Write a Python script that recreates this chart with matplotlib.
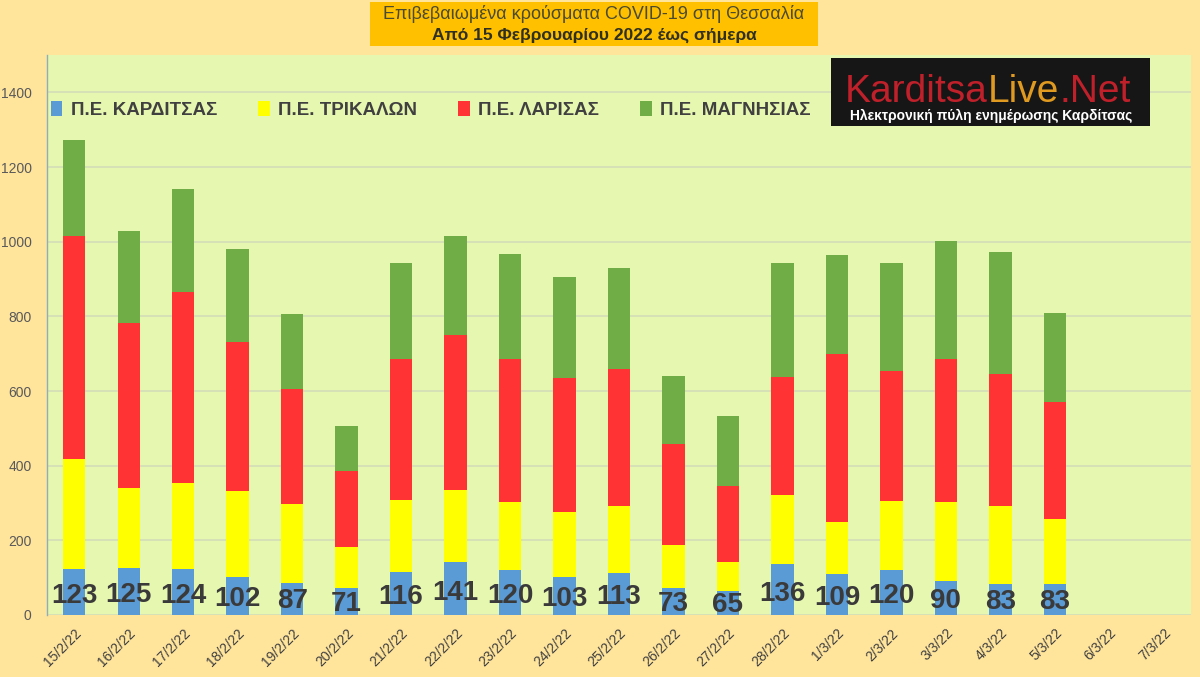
import matplotlib
matplotlib.use("Agg")
import matplotlib.pyplot as plt
from matplotlib.patches import Rectangle
import numpy as np

dates = ["15/2/22", "16/2/22", "17/2/22", "18/2/22", "19/2/22", "20/2/22", "21/2/22",
         "22/2/22", "23/2/22", "24/2/22", "25/2/22", "26/2/22", "27/2/22", "28/2/22",
         "1/3/22", "2/3/22", "3/3/22", "4/3/22", "5/3/22", "6/3/22", "7/3/22"]
karditsa = [123, 125, 124, 102, 87, 71, 116, 141, 120, 103, 113, 73, 65, 136, 109, 120, 90, 83, 83, 0, 0]
trikala  = [296, 214, 229, 231, 211, 112, 192, 195, 182, 174, 178, 115, 78, 186, 141, 185, 214, 208, 174, 0, 0]
larisa   = [596, 444, 512, 399, 307, 204, 377, 415, 384, 359, 369, 271, 203, 315, 448, 349, 383, 355, 314, 0, 0]
magnisia = [256, 246, 276, 249, 202, 119, 258, 263, 281, 269, 270, 180, 186, 307, 266, 290, 316, 325, 239, 0, 0]
series_names = ["Π.Ε. ΚΑΡΔΙΤΣΑΣ", "Π.Ε. ΤΡΙΚΑΛΩΝ", "Π.Ε. ΛΑΡΙΣΑΣ", "Π.Ε. ΜΑΓΝΗΣΙΑΣ"]
colors = ["#5B9BD5", "#FFFF00", "#FF3333", "#70AD47"]
yticks = [0, 200, 400, 600, 800, 1000, 1200, 1400]

FONT = ["Liberation Sans", "DejaVu Sans"]

fig = plt.figure(figsize=(12, 6.77), dpi=100)
fig.patch.set_facecolor("#FFE49C")
ax = fig.add_axes([47/1200, 62/677, (1191-47)/1200, (615-55)/677])
ax.set_facecolor("#E6F7B0")

x = np.arange(len(dates))
data = [karditsa, trikala, larisa, magnisia]
bottom = np.zeros(len(dates))
handles = []
for vals, c, name in zip(data, colors, series_names):
    v = np.array(vals, dtype=float)
    h = ax.bar(x, v, 0.41, bottom=bottom, color=c, label=name, zorder=2)
    handles.append(h)
    bottom += v

for xi, v in zip(x, karditsa):
    if v > 0:
        ax.text(xi, v * 0.42, str(v), ha="center", va="center", fontsize=20,
                fontweight="bold", color="#3A3A3A", family=FONT, zorder=3)

ax.set_xlim(-0.5, len(dates) - 0.5)
ax.set_ylim(0, 1500)
ax.set_yticks(yticks)
ax.set_yticklabels([str(t) for t in yticks], fontsize=10, color="#595959", family=FONT)
ax.set_xticks(x)
ax.set_xticklabels(dates, rotation=45, ha="right", rotation_mode="anchor",
                   fontsize=10, color="#404040", family=FONT)
ax.tick_params(axis="both", length=0)
ax.tick_params(axis="x", pad=8)
ax.tick_params(axis="y", pad=11)
ax.grid(axis="y", color="#D4DDB8", linewidth=1.2, zorder=0)
for s in ["top", "right", "bottom"]:
    ax.spines[s].set_visible(False)
ax.spines["left"].set_color("#8FAFB8")
ax.spines["left"].set_linewidth(1.0)

leg = ax.legend(handles=handles, loc="center left", bbox_to_anchor=(-0.003, 0.902), ncol=4,
                frameon=False, handlelength=0.6, handleheight=0.9, handletextpad=0.45,
                columnspacing=2.2, borderaxespad=0.0,
                prop={"family": FONT, "weight": "bold", "size": 13.5})
for t in leg.get_texts():
    t.set_color("#404040")

# Title box
fig.patches.append(Rectangle((370/1200, 1 - 46/677), 448/1200, 44/677,
                             transform=fig.transFigure, facecolor="#FFC000",
                             edgecolor="none", zorder=5))
fig.text(594/1200, 1 - 14/677, "Επιβεβαιωμένα κρούσματα COVID-19 στη Θεσσαλία",
         ha="center", va="center", fontsize=13, color="#4A4A30", family=FONT, zorder=6)
fig.text(594/1200, 1 - 35/677, "Από 15 Φεβρουαρίου 2022 έως σήμερα",
         ha="center", va="center", fontsize=12.5, fontweight="bold", color="#303020",
         family=FONT, zorder=6)

# Logo
fig.patches.append(Rectangle((831/1200, 1 - 126/677), 319/1200, 68/677,
                             transform=fig.transFigure, facecolor="#161616",
                             edgecolor="none", zorder=5))
ty = 1 - 92/677
t1 = fig.text(845/1200, ty, "Karditsa", ha="left", va="center", fontsize=28,
              color="#C0202A", family=FONT, zorder=6)
fig.canvas.draw()
r = fig.canvas.get_renderer()
bb = t1.get_window_extent(r)
t2 = fig.text(bb.x1 / 1200, ty, "Live", ha="left", va="center", fontsize=28,
              color="#E09A20", family=FONT, zorder=6)
bb2 = t2.get_window_extent(r)
fig.text(bb2.x1 / 1200, ty, ".Net", ha="left", va="center", fontsize=28,
         color="#C0202A", family=FONT, zorder=6)
fig.text(991/1200, 1 - 116/677, "Ηλεκτρονική πύλη ενημέρωσης Καρδίτσας",
         ha="center", va="center", fontsize=10, fontweight="bold", color="white",
         family=FONT, zorder=6)

fig.savefig("out.png", dpi=100, facecolor=fig.get_facecolor())
